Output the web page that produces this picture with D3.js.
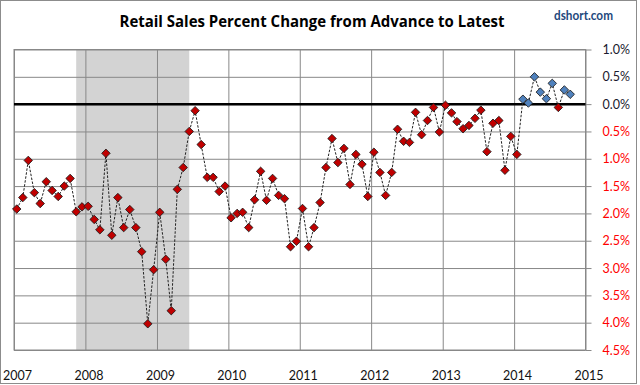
<!DOCTYPE html>
<html>
<head>
<meta charset="utf-8">
<script src="https://cdn.jsdelivr.net/npm/d3@7"></script>
<style>
  body { margin: 0; background: #fff; }
  svg { display: block; font-family: Lato, "Open Sans", sans-serif; }
</style>
</head>
<body>
<svg id="chart" width="640" height="385"></svg>
<script>
// monthly revision (advance -> latest), percent, Jan 2007 .. Oct 2014
const startMonth = '2007-01';
const revisions = [
  -1.92, -1.71, -1.03, -1.62, -1.82, -1.42, -1.58, -1.69, -1.50, -1.36, -1.97, -1.88,
  -1.87, -2.11, -2.30, -0.90, -2.40, -1.71, -2.26, -1.93, -2.26, -2.70, -4.02, -3.03,
  -1.98, -2.84, -3.78, -1.56, -1.16, -0.50, -0.12, -0.74, -1.34, -1.34, -1.60, -1.50,
  -2.08, -2.00, -1.98, -2.26, -1.75, -1.23, -1.76, -1.36, -1.67, -1.73, -2.61, -2.51,
  -1.91, -2.61, -2.26, -1.80, -1.16, -0.63, -1.07, -0.81, -1.47, -0.92, -1.10, -1.69,
  -0.88, -1.25, -1.67, -1.25, -0.46, -0.68, -0.70, -0.15, -0.56, -0.30, -0.06, -0.51,
  -0.02, -0.16, -0.32, -0.45, -0.39, -0.26, -0.11, -0.87, -0.35, -0.30, -1.21, -0.59,
  -0.92, 0.09, 0.02, 0.50, 0.22, 0.10, 0.38, -0.06, 0.26, 0.18
];
const yearTicks = [2007, 2008, 2009, 2010, 2011, 2012, 2013, 2014, 2015];
const pctTicks = [1.0, 0.5, 0.0, -0.5, -1.0, -1.5, -2.0, -2.5, -3.0, -3.5, -4.0, -4.5];
const recession = ['2007-11-15', '2009-06-15'];

const parseMonth = d3.timeParse('%Y-%m');
const first = parseMonth(startMonth);
const data = revisions.map((v, i) => ({
  date: d3.timeDay.offset(d3.timeMonth.offset(first, i), 14),
  value: v
}));

const svg = d3.select('#chart');
const margin = { top: 49.5, left: 14, right: 585.5, bottom: 350 };

const x = d3.scaleTime()
  .domain([new Date(2007, 0, 1), new Date(2015, 0, 1)])
  .range([margin.left, margin.right]);
const y = d3.scaleLinear()
  .domain([1.0, -4.5])
  .range([margin.top, margin.bottom]);

// outer frame
svg.append('rect')
  .attr('x', 0.5).attr('y', 0.5)
  .attr('width', 636).attr('height', 383)
  .attr('fill', '#fff').attr('stroke', '#8c8c8c');

// recession band
svg.append('rect')
  .attr('x', x(new Date(recession[0])))
  .attr('y', margin.top)
  .attr('width', x(new Date(recession[1])) - x(new Date(recession[0])))
  .attr('height', margin.bottom - margin.top)
  .attr('fill', '#d3d3d3');

// horizontal grid + right axis
const yAxis = svg.append('g')
  .attr('transform', `translate(${margin.right},0)`)
  .call(d3.axisRight(y)
    .tickValues(pctTicks)
    .tickSize(-(margin.right - margin.left))
    .tickFormat(d => Math.abs(d).toFixed(1) + '%'));
yAxis.select('.domain').remove();
yAxis.selectAll('line').attr('stroke', '#888').attr('x2', 6);
yAxis.selectAll('.tick').append('line')
  .attr('x1', -(margin.right - margin.left)).attr('x2', 0)
  .attr('stroke', '#888');
yAxis.selectAll('text')
  .attr('x', 44.5)
  .attr('text-anchor', 'end')
  .attr('font-size', 12.5)
  .attr('font-family', 'Lato, sans-serif')
  .attr('fill', d => d > -0.001 ? '#1a1a2e' : '#ff0000');

// vertical grid + bottom labels
const xAxis = svg.append('g')
  .attr('transform', `translate(0,${margin.bottom})`)
  .call(d3.axisBottom(x)
    .tickValues(yearTicks.map(yr => new Date(yr, 0, 1)))
    .tickSize(-(margin.bottom - margin.top))
    .tickFormat(d3.timeFormat('%Y')));
xAxis.select('.domain').remove();
xAxis.selectAll('line').attr('stroke', '#888');
xAxis.selectAll('text')
  .attr('y', 21)
  .attr('dx', 3)
  .attr('font-size', 12.5)
  .attr('font-family', 'Lato, sans-serif')
  .attr('fill', '#111');

// plot frame
svg.append('rect')
  .attr('x', margin.left).attr('y', margin.top)
  .attr('width', margin.right - margin.left)
  .attr('height', margin.bottom - margin.top)
  .attr('fill', 'none').attr('stroke', '#888');

// zero line
svg.append('line')
  .attr('x1', margin.left).attr('x2', margin.right)
  .attr('y1', y(0)).attr('y2', y(0))
  .attr('stroke', '#000').attr('stroke-width', 2.5);

// dashed connector
svg.append('path')
  .datum(data)
  .attr('fill', 'none')
  .attr('stroke', '#222')
  .attr('stroke-width', 1)
  .attr('stroke-dasharray', '2.5,1.5')
  .attr('d', d3.line().x(d => x(d.date)).y(d => y(d.value)));

// diamond markers
const diamond = d3.symbol().type(d3.symbolSquare).size(36);
svg.append('g')
  .selectAll('path')
  .data(data)
  .join('path')
  .attr('d', diamond)
  .attr('transform', d => `translate(${x(d.date)},${y(d.value)}) rotate(45)`)
  .attr('fill', d => d.value > 0 ? '#4f81bd' : '#c00000')
  .attr('stroke', '#1a1a1a')
  .attr('stroke-width', 0.8);

// titles
svg.append('text')
  .attr('x', 312).attr('y', 26.5)
  .attr('text-anchor', 'middle')
  .attr('font-size', 16)
  .attr('font-weight', 'bold')
  .attr('font-family', '"Open Sans", Lato, sans-serif')
  .attr('textLength', 385)
  .attr('lengthAdjust', 'spacingAndGlyphs')
  .attr('fill', '#000')
  .text('Retail Sales Percent Change from Advance to Latest');

svg.append('text')
  .attr('x', 613).attr('y', 20)
  .attr('text-anchor', 'end')
  .attr('font-size', 12.5)
  .attr('font-weight', 'bold')
  .attr('textLength', 59)
  .attr('lengthAdjust', 'spacingAndGlyphs')
  .attr('fill', '#1f497d')
  .text('dshort.com');
</script>
</body>
</html>
